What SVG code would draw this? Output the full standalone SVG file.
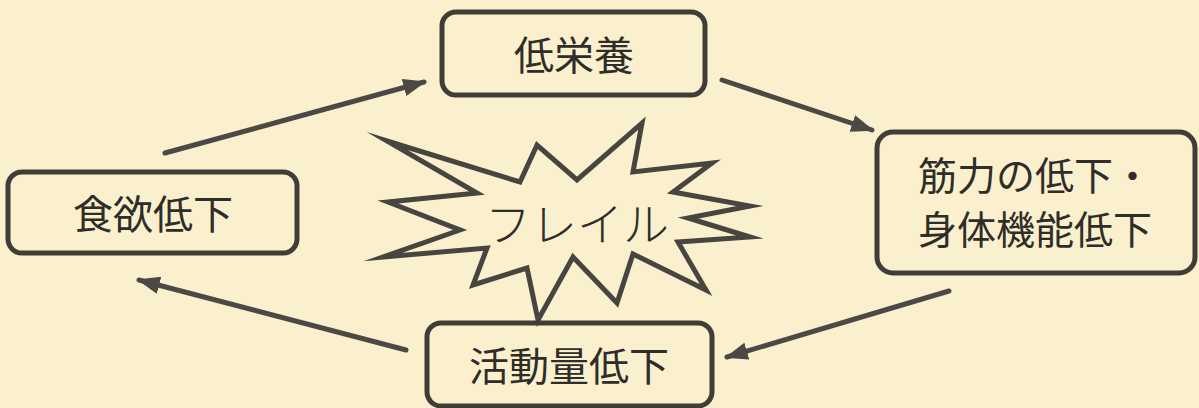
<svg xmlns="http://www.w3.org/2000/svg" width="1199" height="408" viewBox="0 0 1199 408">
<style>
.box{fill:none;stroke:#3e3d37;stroke-width:5}
.lbl{font-family:"Noto Sans CJK JP","Noto Sans CJK SC",sans-serif;font-size:40px;fill:#2e2d29;text-anchor:middle;dominant-baseline:central}
.arr{fill:none;stroke:#4a4944;stroke-width:5;stroke-linecap:round}
.star{fill:none;stroke:#46453f;stroke-width:5;stroke-linejoin:miter;stroke-miterlimit:20}
</style>
<defs>
<marker id="ah" viewBox="0 0 10 10" refX="9" refY="5" markerWidth="4.6" markerHeight="3.5" orient="auto" markerUnits="strokeWidth" preserveAspectRatio="none">
<path d="M0,0 L10,5 L0,10 Z" fill="#4a4944"/>
</marker>
</defs>
<rect width="1199" height="408" fill="#fbf0cd"/>
<g id="connectors">
<line class="arr" x1="165" y1="153" x2="424" y2="82" marker-end="url(#ah)"/>
<line class="arr" x1="722" y1="80" x2="872" y2="130" marker-end="url(#ah)"/>
<line class="arr" x1="949" y1="291" x2="727" y2="357" marker-end="url(#ah)"/>
<line class="arr" x1="406" y1="350" x2="139" y2="280" marker-end="url(#ah)"/>
</g>
<g id="node-frail">
<path class="star" d="M387,141 L520,182 L537,145 L577,180 L642,123 L633,172 L712,163 L673,192 L750,206 L688,218 L750,237 L678,242 L706,290 L633,254 L617,303 L573,257 L538,320 L527,268 L473,285 L487,248 L383,257 L460,230 L388,202 L477,193 Z"/>
<text class="lbl" x="577" y="221" style="font-size:46px;font-weight:300">フレイル</text>
</g>
<g id="node-teieiyou">
<rect class="box" x="442" y="12" width="263" height="83" rx="14"/>
<text class="lbl" x="574" y="53">低栄養</text>
</g>
<g id="node-kinryoku">
<rect class="box" x="877" y="132" width="318" height="141" rx="16"/>
<text class="lbl" x="1035" y="173" style="font-size:39px">筋力の低下・</text>
<text class="lbl" x="1035" y="227" style="font-size:39px">身体機能低下</text>
</g>
<g id="node-katsudou">
<rect class="box" x="427" y="323" width="285" height="83" rx="14"/>
<text class="lbl" x="569" y="364">活動量低下</text>
</g>
<g id="node-shokuyoku">
<rect class="box" x="8" y="172" width="289" height="81" rx="14"/>
<text class="lbl" x="153" y="212">食欲低下</text>
</g>
</svg>
